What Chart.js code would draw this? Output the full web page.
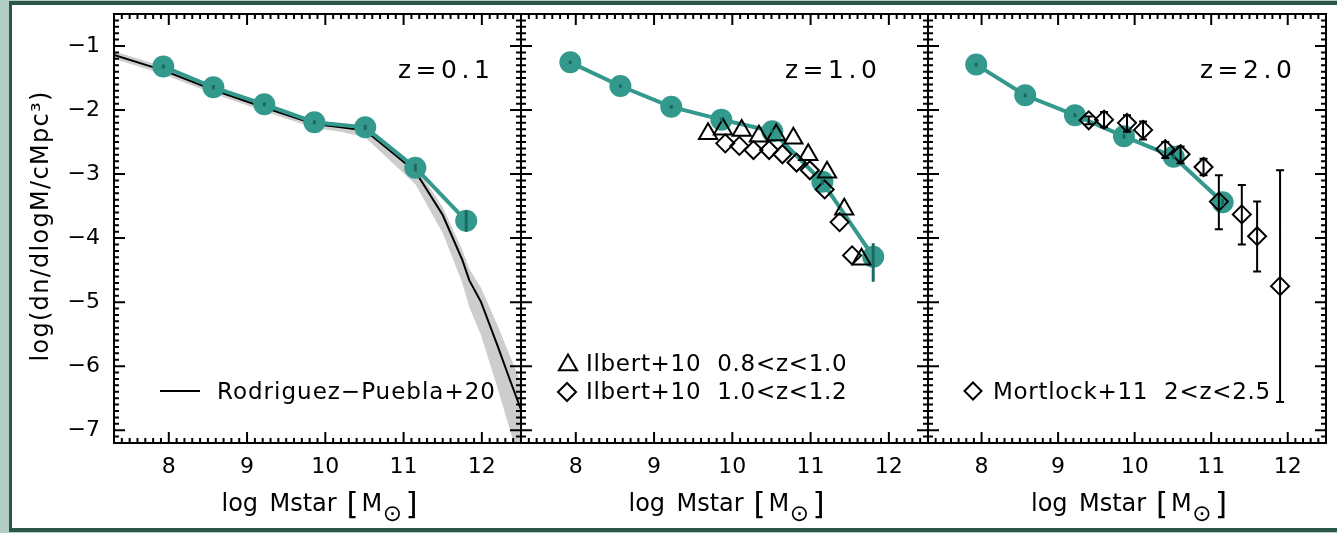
<!DOCTYPE html>
<html>
<head>
<meta charset="utf-8">
<script src="https://cdn.jsdelivr.net/npm/chart.js@4"></script>
<style>
  html, body { margin: 0; padding: 0; }
  body { width: 1337px; height: 533px; overflow: hidden; background: #b2ccc6; position: relative; }
  #frame { position: absolute; left: 9px; top: 1px; width: 1400px; height: 523px;
           border: 4px solid #2c5846; border-left-width: 3px; background: #fff; }
  canvas { position: absolute; left: 0; top: 0; }
</style>
</head>
<body>
<div id="frame"></div>
<canvas id="p1" width="1337" height="533"></canvas>
<canvas id="p2" width="1337" height="533"></canvas>
<canvas id="p3" width="1337" height="533"></canvas>
<script>
// axis ranges and tick labels (shared by all three panels)
const X_MIN = 7.3, X_MAX = 12.5, Y_MIN = -7.2, Y_MAX = -0.5;
const xTicks = [8, 9, 10, 11, 12];
const yTicks = [-7, -6, -5, -4, -3, -2, -1];

// model mass function, log Mstar bin centres
const binX = [7.93, 8.57, 9.22, 9.86, 10.51, 11.15, 11.80];

// z = 0.1
const z01Y  = [-1.32, -1.645, -1.91, -2.19, -2.27, -2.90, -3.73];
const z01Lo = [-1.35, -1.68, -1.94, -2.22, -2.31, -2.96, -3.90];
const z01Hi = [-1.29, -1.61, -1.88, -2.16, -2.23, -2.84, -3.57];

// Rodriguez-Puebla+20 curve and its scatter band
const rpX  = [7.3, 7.93, 8.58, 9.22, 9.86, 10.2, 10.51, 10.87, 11.15, 11.5, 11.75, 11.84, 11.99, 12.2, 12.36, 12.5];
const rpY  = [-1.14, -1.38, -1.69, -1.96, -2.22, -2.27, -2.32, -2.68, -2.96, -3.64, -4.34, -4.66, -5.0, -5.68, -6.22, -6.68];
const rpHi = [-1.08, -1.32, -1.63, -1.90, -2.16, -2.21, -2.25, -2.60, -2.87, -3.52, -4.18, -4.48, -4.78, -5.36, -5.84, -6.26];
const rpLo = [-1.20, -1.44, -1.75, -2.02, -2.28, -2.34, -2.43, -2.84, -3.16, -3.92, -4.70, -5.08, -5.52, -6.34, -7.00, -7.55];

// z = 1.0
const z10Y  = [-1.255, -1.625, -1.95, -2.15, -2.33, -3.12, -4.29];
const z10Lo = [-1.28, -1.65, -1.98, -2.18, -2.36, -3.17, -4.68];
const z10Hi = [-1.23, -1.60, -1.92, -2.12, -2.30, -3.07, -4.08];

// Ilbert+10
const ilbAX = [9.69, 9.88, 10.12, 10.34, 10.56, 10.78, 10.97, 11.21, 11.43, 11.65];
const ilbAY = [-2.37, -2.30, -2.32, -2.41, -2.39, -2.44, -2.70, -2.97, -3.55, -4.33];
const ilbBX = [9.91, 10.09, 10.27, 10.47, 10.64, 10.82, 10.99, 11.18, 11.37, 11.53];
const ilbBY = [-2.52, -2.56, -2.625, -2.625, -2.69, -2.82, -2.94, -3.24, -3.75, -4.27];

// z = 2.0
const z20X  = [7.93, 8.57, 9.22, 9.86, 10.51, 11.15];
const z20Y  = [-1.29, -1.77, -2.08, -2.41, -2.73, -3.44];
const z20Lo = [-1.32, -1.80, -2.11, -2.45, -2.77, -3.50];
const z20Hi = [-1.26, -1.74, -2.05, -2.37, -2.69, -3.38];

// Mortlock+11
const morX  = [9.40, 9.60, 9.90, 10.11, 10.40, 10.60, 10.90, 11.10, 11.40, 11.60, 11.90];
const morY  = [-2.16, -2.15, -2.20, -2.31, -2.61, -2.69, -2.89, -3.43, -3.63, -3.97, -4.75];
const morHi = [-2.10, -2.03, -2.08, -2.18, -2.50, -2.57, -2.76, -3.02, -3.17, -3.43, -2.94];
const morLo = [-2.22, -2.27, -2.34, -2.46, -2.75, -2.83, -3.02, -3.86, -4.10, -4.52, -6.56];

const TEAL = '#34998d';
const TEAL_DARK = '#1b6a61';
const FONT = '"DejaVu Sans", sans-serif';

const pts = (xs, ys) => xs.map((x, i) => ({ x: x, y: ys[i] }));

function tealSet(xs, ys) {
  return {
    data: pts(xs, ys), showLine: true, borderColor: TEAL, borderWidth: 4,
    pointRadius: 11, pointBackgroundColor: TEAL, pointBorderWidth: 0, order: 2
  };
}

function openSet(xs, ys, style, r) {
  return {
    data: pts(xs, ys), showLine: false, pointStyle: style, pointRadius: r,
    pointBorderColor: '#000', pointBorderWidth: 2, pointBackgroundColor: 'rgba(0,0,0,0)', order: 0
  };
}

function label(ctx, str, x, y, size, spacing, align) {
  ctx.font = size + 'px ' + FONT;
  ctx.letterSpacing = (spacing || 0) + 'px';
  ctx.textAlign = align || 'left';
  ctx.textBaseline = 'alphabetic';
  ctx.fillText(str, x, y);
}

function symbol(ctx, style, r, x, y) {
  ctx.save();
  ctx.strokeStyle = '#000';
  ctx.fillStyle = 'rgba(0,0,0,0)';
  ctx.lineWidth = 2;
  Chart.helpers.drawPoint(ctx, { pointStyle: style, radius: r, borderWidth: 2, rotation: 0 }, x, y);
  ctx.restore();
}

function errBars(chart, xs, lo, hi, color, width, cap) {
  const { ctx, scales: { x, y } } = chart;
  ctx.save();
  ctx.strokeStyle = color;
  ctx.lineWidth = width;
  ctx.beginPath();
  xs.forEach((v, i) => {
    const px = x.getPixelForValue(v);
    const y1 = y.getPixelForValue(lo[i]), y2 = y.getPixelForValue(hi[i]);
    ctx.moveTo(px, y1); ctx.lineTo(px, y2);
    if (cap) {
      ctx.moveTo(px - cap, y1); ctx.lineTo(px + cap, y1);
      ctx.moveTo(px - cap, y2); ctx.lineTo(px + cap, y2);
    }
  });
  ctx.stroke();
  ctx.restore();
}

// box with inward major/minor ticks on all four sides
function drawFrame(chart) {
  const { ctx, chartArea: a, scales: { x, y } } = chart;
  ctx.save();
  ctx.strokeStyle = '#000';
  ctx.lineWidth = 2;
  ctx.beginPath();
  for (let i = 0; i <= 52; i++) {
    const v = X_MIN + i * 0.1;
    const len = Math.abs(v - Math.round(v)) < 1e-6 ? 11 : 5;
    const px = x.getPixelForValue(v);
    ctx.moveTo(px, a.bottom); ctx.lineTo(px, a.bottom - len);
    ctx.moveTo(px, a.top); ctx.lineTo(px, a.top + len);
  }
  for (let i = 0; i <= 67; i++) {
    const v = Y_MIN + i * 0.1;
    const len = Math.abs(v - Math.round(v)) < 1e-6 ? 11 : 5;
    const py = y.getPixelForValue(v);
    ctx.moveTo(a.left, py); ctx.lineTo(a.left + len, py);
    ctx.moveTo(a.right, py); ctx.lineTo(a.right - len, py);
  }
  ctx.stroke();
  ctx.strokeRect(a.left, a.top, a.width, a.height);
  ctx.restore();
}

function xTitle(ctx, cx) {
  ctx.save();
  ctx.fillStyle = '#000';
  label(ctx, 'log', cx - 96, 511, 24);
  label(ctx, 'Mstar', cx - 48, 511, 24);
  label(ctx, '[', cx + 29, 514, 31);
  label(ctx, 'M', cx + 44, 511, 24);
  ctx.font = '23px ' + FONT;
  ctx.textAlign = 'center';
  ctx.textBaseline = 'middle';
  ctx.fillText('\u2299', cx + 75, 515);
  label(ctx, ']', cx + 88, 514, 31);
  ctx.restore();
}

const panels = [
  {
    id: 'p1', padLeft: 0, padRight: 816, yWidth: 114, showY: true,
    zText: 'z=0.1', zX: 398,
    datasets: [
      tealSet(binX, z01Y),
      { data: pts(rpX, rpY), showLine: true, borderColor: '#000', borderWidth: 2, pointRadius: 0, order: 3 },
      { data: pts(rpX, rpHi), showLine: true, borderColor: 'rgba(0,0,0,0)', borderWidth: 0, pointRadius: 0,
        fill: '+1', backgroundColor: '#cdcdcd', order: 4 },
      { data: pts(rpX, rpLo), showLine: true, borderColor: 'rgba(0,0,0,0)', borderWidth: 0, pointRadius: 0, order: 5 }
    ],
    errors(chart) { errBars(chart, binX, z01Lo, z01Hi, TEAL_DARK, 3, 0); },
    legend(ctx) {
      ctx.strokeStyle = '#000'; ctx.lineWidth = 2;
      ctx.beginPath(); ctx.moveTo(160, 391); ctx.lineTo(200, 391); ctx.stroke();
      label(ctx, 'Rodriguez\u2212Puebla+20', 217, 399, 23, 1);
      // y axis title
      ctx.save();
      ctx.translate(48, 226);
      ctx.rotate(-Math.PI / 2);
      label(ctx, 'log(dn/dlogM/cMpc\u00b3)', 0, 0, 24, 1.3, 'center');
      ctx.restore();
    }
  },
  {
    id: 'p2', padLeft: 521, padRight: 409, yWidth: 0, showY: false,
    zText: 'z=1.0', zX: 785,
    datasets: [
      tealSet(binX, z10Y),
      openSet(ilbAX, ilbAY, 'triangle', 10.5),
      openSet(ilbBX, ilbBY, 'rectRot', 9)
    ],
    errors(chart) { errBars(chart, binX, z10Lo, z10Hi, TEAL_DARK, 3, 0); },
    legend(ctx) {
      symbol(ctx, 'triangle', 10.5, 568, 365);
      symbol(ctx, 'rectRot', 9, 567, 392);
      label(ctx, 'Ilbert+10  0.8<z<1.0', 586, 371, 23, 0.7);
      label(ctx, 'Ilbert+10  1.0<z<1.2', 586, 399, 23, 0.7);
    }
  },
  {
    id: 'p3', padLeft: 928, padRight: 2, yWidth: 0, showY: false,
    zText: 'z=2.0', zX: 1200,
    datasets: [
      tealSet(z20X, z20Y),
      openSet(morX, morY, 'rectRot', 9)
    ],
    errors(chart) {
      errBars(chart, z20X, z20Lo, z20Hi, TEAL_DARK, 3, 0);
      errBars(chart, morX, morLo, morHi, '#000', 2, 4);
    },
    legend(ctx) {
      symbol(ctx, 'rectRot', 8.5, 973, 391);
      label(ctx, 'Mortlock+11  2<z<2.5', 993, 399, 23, 0.7);
    }
  }
];

panels.forEach(p => {
  const overlay = {
    id: 'overlay_' + p.id,
    afterDatasetsDraw(chart) { p.errors(chart); },
    afterDraw(chart) {
      const ctx = chart.ctx;
      drawFrame(chart);
      ctx.save();
      ctx.fillStyle = '#000';
      label(ctx, p.zText, p.zX, 78, 25, 4.5);
      p.legend(ctx);
      xTitle(ctx, (chart.chartArea.left + chart.chartArea.right) / 2);
      ctx.restore();
    }
  };

  new Chart(document.getElementById(p.id), {
    type: 'line',
    data: { datasets: p.datasets },
    options: {
      responsive: false,
      animation: false,
      devicePixelRatio: 1,
      layout: { padding: { left: p.padLeft, right: p.padRight, top: 14, bottom: 0 } },
      plugins: { legend: { display: false }, tooltip: { enabled: false } },
      scales: {
        x: {
          type: 'linear', min: X_MIN, max: X_MAX,
          afterBuildTicks: s => { s.ticks = xTicks.map(v => ({ value: v })); },
          afterFit: s => { s.height = 90; s.paddingLeft = 0; s.paddingRight = 0; },
          grid: { display: false, drawTicks: false },
          border: { display: false },
          ticks: { font: { family: FONT, size: 22 }, color: '#000', padding: 11,
                   maxRotation: 0, autoSkip: false, callback: v => String(v) }
        },
        y: {
          type: 'linear', min: Y_MIN, max: Y_MAX,
          afterBuildTicks: s => { s.ticks = yTicks.map(v => ({ value: v })); },
          afterFit: s => { s.width = p.yWidth; s.paddingTop = 0; s.paddingBottom = 0; },
          grid: { display: false, drawTicks: false },
          border: { display: false },
          ticks: { display: p.showY, font: { family: FONT, size: 22 }, color: '#000', padding: 14,
                   autoSkip: false, callback: v => '\u2212' + Math.abs(v) }
        }
      }
    },
    plugins: [overlay]
  });
});
</script>
</body>
</html>
